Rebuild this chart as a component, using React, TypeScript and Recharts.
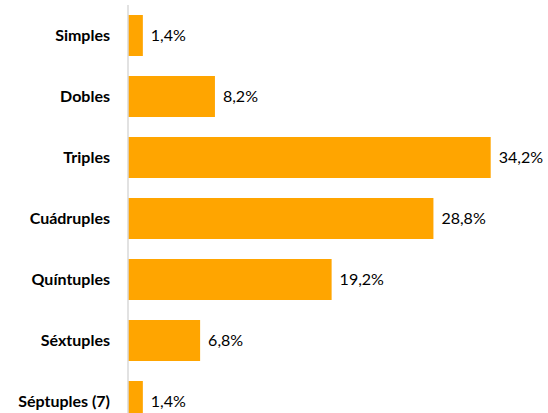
import React from 'react'
import { BarChart, Bar, XAxis, YAxis, LabelList } from 'recharts'

const categories = ['Simples', 'Dobles', 'Triples', 'Cuádruples', 'Quíntuples', 'Séxtuples', 'Séptuples (7)']
const shares = [1.4, 8.2, 34.2, 28.8, 19.2, 6.8, 1.4]

const data = categories.map((name, i) => ({ name, share: shares[i] }))

const fmt = (v: any) => String(v).replace('.', ',') + '%'

const App = () => {
	return (
		<div style={{ position: 'absolute', top: 0, left: 0, width: 548, height: 413, overflow: 'hidden', background: '#fff' }}>
			<BarChart
				width={548}
				height={440}
				data={data}
				layout='vertical'
				barCategoryGap={10}
				margin={{ top: 5, right: 17, left: 0, bottom: 8 }}>
				<XAxis type='number' domain={[0, 38]} hide />
				<YAxis
					type='category'
					dataKey='name'
					width={128}
					tickLine={false}
					tickSize={0}
					tickMargin={18}
					axisLine={{ stroke: '#d9d9d9', strokeWidth: 1.5 }}
					tick={{ fill: '#000', fontSize: 16, fontWeight: 700, fontFamily: 'Lato' }}
				/>
				<Bar dataKey='share' fill='#FFA500' isAnimationActive={false}>
					<LabelList
						dataKey='share'
						position='right'
						offset={8}
						formatter={fmt}
						style={{ fill: '#000', fontSize: 16, fontFamily: 'Lato' }}
					/>
				</Bar>
			</BarChart>
		</div>
	)
}

export default App
